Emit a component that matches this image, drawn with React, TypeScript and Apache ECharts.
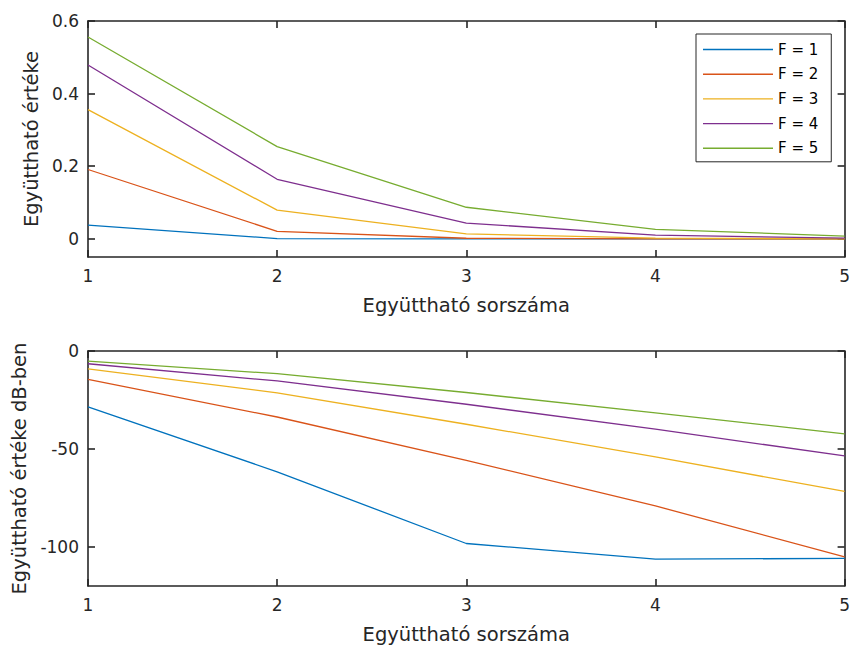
import React, { useEffect, useRef } from "react";
import * as echarts from "echarts";

// Coefficient index (x axis of both panels)
const coeffIndex = [1, 2, 3, 4, 5];
const seriesNames = ["F = 1", "F = 2", "F = 3", "F = 4", "F = 5"];
const seriesColors = ["#0072BD", "#D95319", "#EDB120", "#7E2F8E", "#77AC30"];

// Coefficient values (linear)
const coefF1 = [0.038, 0.0008, 0.000012, 0.000005, 0.000005];
const coefF2 = [0.191, 0.0207, 0.0016, 0.00011, 0.0000056];
const coefF3 = [0.356, 0.079, 0.0135, 0.002, 0.00026];
const coefF4 = [0.479, 0.164, 0.0435, 0.0101, 0.0021];
const coefF5 = [0.556, 0.254, 0.087, 0.026, 0.0077];

// Coefficient values in dB
const dbF1 = [-28.5, -61.7, -98.3, -106.3, -105.9];
const dbF2 = [-14.5, -33.7, -55.8, -79.1, -105.1];
const dbF3 = [-9.1, -21.4, -37.4, -54.1, -71.7];
const dbF4 = [-6.5, -15.3, -27.2, -39.9, -53.6];
const dbF5 = [-5.2, -11.6, -21.2, -31.6, -42.3];

// Tick labels
const xTicks = [1, 2, 3, 4, 5];
const linTicks = [0, 0.2, 0.4, 0.6];
const dbTicks = [-100, -50, 0];

const xTitle = "Együttható sorszáma";
const linTitle = "Együttható értéke";
const dbTitle = "Együttható értéke dB-ben";

const FONT = "DejaVu Sans";
const INK = "#262626";

export default function App() {
  const ref = useRef<HTMLDivElement>(null);

  useEffect(() => {
    if (!ref.current) return;
    const chart = echarts.init(ref.current, undefined, { renderer: "svg" });

    const lin = [coefF1, coefF2, coefF3, coefF4, coefF5];
    const db = [dbF1, dbF2, dbF3, dbF4, dbF5];

    const axisLine = { show: true, onZero: false, lineStyle: { color: INK, width: 1.6 } };
    const tickStyle = { show: true, inside: true, length: 7, lineStyle: { color: INK, width: 1.6 } };
    const labelStyle = { color: INK, fontFamily: FONT, fontSize: 17 };
    const nameStyle = { color: INK, fontFamily: FONT, fontSize: 19.5 };

    const xBottom = (gridIndex: number) => ({
      type: "value",
      gridIndex,
      position: "bottom",
      min: 1,
      max: 5,
      interval: 1,
      axisLine,
      axisTick: { ...tickStyle, customValues: xTicks },
      axisLabel: { ...labelStyle, margin: 10, customValues: xTicks },
      splitLine: { show: false },
      name: xTitle,
      nameLocation: "middle",
      nameGap: 38,
      nameTextStyle: nameStyle,
    });
    const xTop = (gridIndex: number) => ({
      type: "value",
      gridIndex,
      position: "top",
      min: 1,
      max: 5,
      interval: 1,
      axisLine,
      axisTick: { ...tickStyle, customValues: xTicks },
      axisLabel: { show: false },
      splitLine: { show: false },
    });
    const yLeft = (gridIndex: number, min: number, max: number, ticks: number[], name: string, gap: number) => ({
      type: "value",
      gridIndex,
      position: "left",
      min,
      max,
      axisLine,
      axisTick: { ...tickStyle, customValues: ticks },
      axisLabel: { ...labelStyle, margin: 9, customValues: ticks },
      splitLine: { show: false },
      name,
      nameLocation: "middle",
      nameGap: gap,
      nameTextStyle: nameStyle,
    });
    const yRight = (gridIndex: number, min: number, max: number, ticks: number[]) => ({
      type: "value",
      gridIndex,
      position: "right",
      min,
      max,
      axisLine,
      axisTick: { ...tickStyle, customValues: ticks },
      axisLabel: { show: false },
      splitLine: { show: false },
    });

    const makeSeries = (values: number[][], xAxisIndex: number, yAxisIndex: number) =>
      values.map((vals, i) => ({
        type: "line",
        name: seriesNames[i],
        xAxisIndex,
        yAxisIndex,
        data: coeffIndex.map((x, j) => [x, vals[j]]),
        symbol: "none",
        lineStyle: { color: seriesColors[i], width: 1.3 },
        itemStyle: { color: seriesColors[i] },
        z: 3,
      }));

    chart.setOption({
      animation: false,
      backgroundColor: "#ffffff",
      grid: [
        { left: 88, right: 5, top: 21, height: 236 },
        { left: 88, right: 5, top: 351, height: 235 },
      ],
      xAxis: [xBottom(0), xTop(0), xBottom(1), xTop(1)],
      yAxis: [
        yLeft(0, -0.05, 0.6, linTicks, linTitle, 40),
        yRight(0, -0.05, 0.6, linTicks),
        yLeft(1, -120, 0, dbTicks, dbTitle, 56),
        yRight(1, -120, 0, dbTicks),
      ],
      legend: {
        data: seriesNames,
        orient: "vertical",
        left: 696,
        top: 34,
        icon: "rect",
        itemWidth: 70,
        itemHeight: 1.4,
        itemGap: 9.7,
        padding: [8, 13, 6, 7],
        backgroundColor: "#ffffff",
        borderColor: INK,
        borderWidth: 1,
        borderRadius: 0,
        textStyle: { color: "#000000", fontFamily: FONT, fontSize: 15, lineHeight: 14 },
        selectedMode: false,
      },
      series: [...makeSeries(lin, 0, 0), ...makeSeries(db, 2, 2)],
    });

    return () => chart.dispose();
  }, []);

  return (
    <div
      ref={ref}
      style={{ position: "fixed", left: 0, top: 0, width: 853, height: 646, background: "#fff" }}
    />
  );
}
